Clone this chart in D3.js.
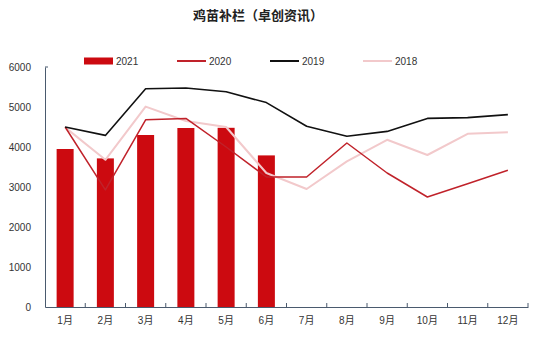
<!DOCTYPE html>
<html>
<head>
<meta charset="utf-8">
<title>鸡苗补栏</title>
<style>
  body { margin: 0; background: #fff; }
  text { font-family: "Liberation Sans", "Noto Sans CJK SC", sans-serif; fill: #333; }
</style>
</head>
<body>
<div id="chart"></div>
<script src="https://d3js.org/d3.v7.min.js"></script>
<script>
const months = ["1月","2月","3月","4月","5月","6月","7月","8月","9月","10月","11月","12月"];
const yTicks = [0, 1000, 2000, 3000, 4000, 5000, 6000];
const s2021 = [3950, 3715, 4300, 4475, 4480, 3790];
const s2020 = [4500, 2930, 4680, 4715, 4000, 3250, 3250, 4100, 3350, 2750, 3080, 3420];
const s2019 = [4500, 4290, 5455, 5475, 5380, 5110, 4520, 4270, 4390, 4715, 4735, 4810];
const s2018 = [4490, 3680, 5010, 4650, 4500, 3350, 2950, 3640, 4180, 3800, 4330, 4370];

const width = 550, height = 354;
const m = { left: 45, right: 22, top: 67, bottom: 47 };

const svg = d3.select("#chart").append("svg")
  .attr("width", width).attr("height", height);

const x = d3.scaleBand().domain(months).range([m.left, width - m.right]);
const y = d3.scaleLinear().domain([0, 6000]).range([height - m.bottom, m.top]);
const axisColor = "#4a5a6e";

// title
svg.append("text")
  .attr("x", 258).attr("y", 20)
  .attr("text-anchor", "middle")
  .attr("font-family", "Noto Sans CJK SC")
  .attr("font-weight", "bold")
  .attr("font-size", 13)
  .style("fill", "#222")
  .text("鸡苗补栏（卓创资讯）");

// bars
svg.append("g").selectAll("rect")
  .data(s2021)
  .join("rect")
  .attr("x", (d, i) => x(months[i]) + x.bandwidth() / 2 - 8.5)
  .attr("width", 17)
  .attr("y", d => y(d))
  .attr("height", d => y(0) - y(d))
  .attr("fill", "#cc0a10");

// lines
const line = d3.line()
  .x((d, i) => x(months[i]) + x.bandwidth() / 2)
  .y(d => y(d));

const series = [
  { data: s2018, color: "#f2c9cb", w: 2 },
  { data: s2020, color: "#c0222a", w: 1.5 },
  { data: s2019, color: "#111", w: 1.6 }
];
series.forEach(s => {
  svg.append("path")
    .datum(s.data)
    .attr("fill", "none")
    .attr("stroke", s.color)
    .attr("stroke-width", s.w)
    .attr("stroke-linejoin", "round")
    .attr("d", line);
});

// y axis
const yAxis = svg.append("g")
  .attr("transform", `translate(${m.left},0)`)
  .call(d3.axisLeft(y).tickValues(yTicks).tickSize(0).tickPadding(14).tickFormat(d3.format("d")));
yAxis.select(".domain").attr("stroke", axisColor);
yAxis.selectAll("text").attr("font-size", 10).style("fill", "#333");
svg.append("line")
  .attr("x1", m.left).attr("x2", m.left + 3)
  .attr("y1", y(6000)).attr("y2", y(6000))
  .attr("stroke", axisColor);

// x axis
const xAxis = svg.append("g")
  .attr("transform", `translate(0,${y(0)})`)
  .call(d3.axisBottom(x).tickSize(0).tickPadding(10));
xAxis.select(".domain").attr("stroke", axisColor).attr("stroke-width", 1.2);
xAxis.selectAll("text")
  .attr("font-size", 10)
  .attr("font-family", "Noto Sans CJK SC")
  .style("fill", "#333");
svg.append("g").selectAll("line")
  .data(months.slice(1).concat(["end"]))
  .join("line")
  .attr("x1", (d, i) => x(months[0]) + x.step() * (i + 1))
  .attr("x2", (d, i) => x(months[0]) + x.step() * (i + 1))
  .attr("y1", y(0)).attr("y2", y(0) - 4)
  .attr("stroke", axisColor);

// legend
const legend = [
  { name: "2021", color: "#cc0a10", type: "bar", x: 84 },
  { name: "2020", color: "#c0222a", type: "line", x: 177 },
  { name: "2019", color: "#111", type: "line", x: 270 },
  { name: "2018", color: "#f2c9cb", type: "line", x: 363 }
];
const lg = svg.append("g").selectAll("g").data(legend).join("g")
  .attr("transform", d => `translate(${d.x},61)`);
lg.filter(d => d.type === "bar").append("rect")
  .attr("x", 0).attr("y", -3.5).attr("width", 29).attr("height", 7)
  .attr("fill", d => d.color);
lg.filter(d => d.type === "line").append("line")
  .attr("x1", 0).attr("x2", 29)
  .attr("stroke", d => d.color).attr("stroke-width", 2);
lg.append("text")
  .attr("x", 32).attr("y", 3.5)
  .attr("font-size", 10)
  .style("fill", "#333")
  .text(d => d.name);
</script>
</body>
</html>
